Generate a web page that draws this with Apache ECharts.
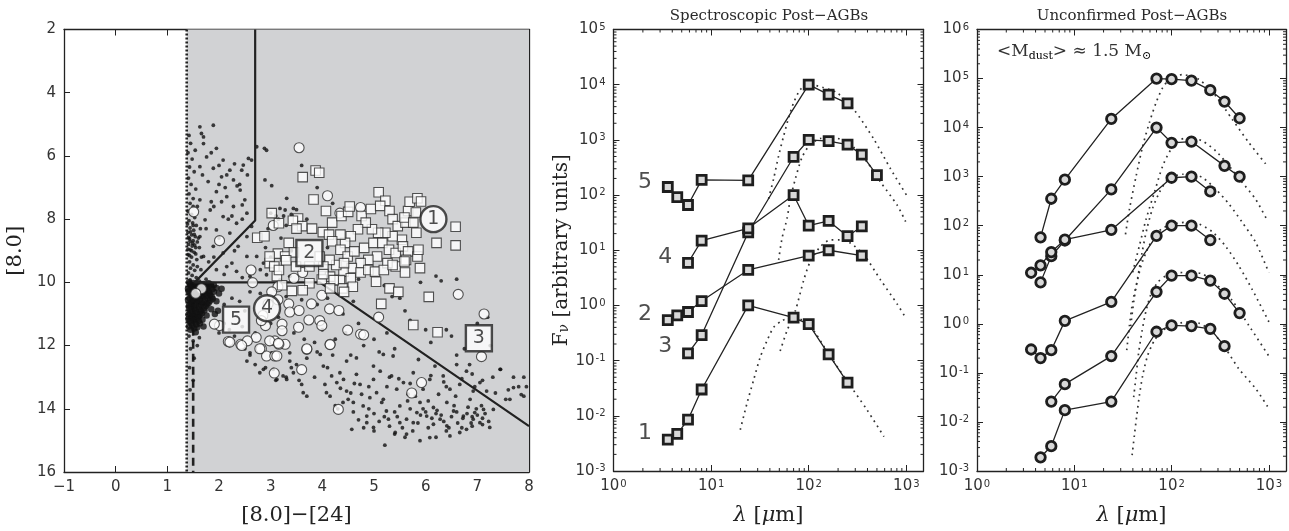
<!DOCTYPE html>
<html>
<head>
<meta charset="utf-8">
<script src="https://cdn.jsdelivr.net/npm/echarts@6/dist/echarts.min.js"></script>
<style>
  html, body { margin: 0; padding: 0; background: #ffffff; }
  #chart { width: 1289px; height: 531px; }
</style>
</head>
<body>
<div id="chart"></div>
<script>
// ---------- Left panel: [8.0] vs [8.0]-[24] ----------
const colorTicks = [-1, 0, 1, 2, 3, 4, 5, 6, 7, 8];
const magTicks = [2, 4, 6, 8, 10, 12, 14, 16];

// selection boundary polyline
const boundaryX = [2.7, 2.7, 1.53, 3.95, 8.0];
const boundaryY = [2, 8.04, 10.0, 10.0, 14.55];
const dottedCutX = 1.375;
const dashedCutX = 1.5;

// faint sources (small dots)
const bandDots = [
  [1.42,5.35],[1.45,5.6],[1.40,5.9],[1.48,6.1],[1.43,6.35],[1.52,6.5],[1.41,6.7],[1.46,6.9],[1.55,7.05],[1.42,7.2],
  [1.50,7.35],[1.44,7.5],[1.58,7.6],[1.40,7.75],[1.47,7.85],[1.53,7.95],[1.42,8.05],[1.49,8.12],[1.56,8.2],[1.44,8.28],
  [1.51,8.35],[1.40,8.42],[1.47,8.5],[1.54,8.55],[1.43,8.62],[1.50,8.68],[1.58,8.72],[1.41,8.8],[1.48,8.85],[1.55,8.9],
  [1.44,8.97],[1.52,9.05],[1.40,9.12],[1.47,9.2],[1.57,9.28],[1.43,9.35],[1.50,9.45],[1.45,9.55],[1.53,9.62],[1.41,9.7],
  [1.48,9.78],[1.56,9.85],[1.44,9.92],[1.39,8.15],[1.45,8.4],[1.52,8.48],[1.41,8.58],[1.49,8.76],[1.44,8.7],[1.53,8.82],
  [1.4,8.95],[1.47,9.0],[1.55,9.1],[1.43,9.15],[1.5,8.2],[1.6,8.6],[1.62,8.9],[1.58,9.5],[1.64,8.3],[1.66,9.2],
  [1.42,11.7],[1.5,11.85],[1.45,12.1],[1.52,12.4],[1.43,12.7],[1.5,13.1],[1.44,13.4],[1.62,11.75],[1.58,12.0]
];
const blobDots = [
  [1.42,10.0],[1.5,10.02],[1.6,10.0],[1.7,10.05],[1.8,10.03],[1.9,10.08],[1.45,10.1],[1.55,10.12],[1.65,10.1],[1.75,10.15],
  [1.85,10.12],[1.95,10.18],[1.4,10.2],[1.5,10.22],[1.6,10.25],[1.7,10.22],[1.8,10.28],[1.9,10.3],[1.43,10.32],[1.53,10.35],
  [1.63,10.38],[1.73,10.35],[1.83,10.4],[1.48,10.45],[1.58,10.48],[1.68,10.45],[1.78,10.5],[1.88,10.52],[1.4,10.55],[1.5,10.58],
  [1.6,10.6],[1.7,10.62],[1.8,10.65],[1.45,10.68],[1.55,10.7],[1.65,10.72],[1.75,10.75],[1.42,10.8],[1.52,10.82],[1.62,10.85],
  [1.72,10.88],[1.85,10.85],[1.47,10.92],[1.57,10.95],[1.67,10.98],[1.41,11.02],[1.51,11.05],[1.61,11.08],[1.76,11.05],[1.46,11.12],
  [1.56,11.15],[1.68,11.18],[1.43,11.22],[1.53,11.25],[1.63,11.3],[1.48,11.35],[1.58,11.42],[1.45,11.5],[1.55,11.58],[1.7,11.4],
  [1.95,10.6],[2.0,10.35],[1.98,10.9],[2.05,10.2],[1.92,11.0],
  [1.44,10.05],[1.54,10.07],[1.64,10.06],[1.74,10.09],[1.84,10.07],[1.47,10.16],[1.57,10.18],[1.67,10.17],[1.77,10.2],[1.87,10.22],
  [1.41,10.27],[1.51,10.29],[1.61,10.31],[1.71,10.3],[1.81,10.34],[1.46,10.4],[1.56,10.42],[1.66,10.43],[1.76,10.42],[1.86,10.46],
  [1.43,10.5],[1.53,10.52],[1.63,10.54],[1.73,10.56],[1.83,10.58],[1.47,10.62],[1.57,10.64],[1.67,10.66],[1.77,10.69],[1.42,10.73],
  [1.52,10.76],[1.62,10.78],[1.72,10.8],[1.45,10.87],[1.55,10.89],[1.65,10.91],[1.44,10.98],[1.54,11.0],[1.64,11.02],[1.49,11.08],
  [1.59,11.11],[1.41,11.16],[1.51,11.19],[1.61,11.22],[1.46,11.29],[1.56,11.33],[1.42,11.4],[1.52,11.46]
];
const wedgeDots = [
  [1.63,5.08],[1.89,5.03],[1.66,5.29],[1.70,5.61],[1.54,5.82],[1.95,5.76],[1.76,6.03],[2.08,6.13],[1.63,6.34],[1.89,6.39],
  [2.21,6.45],[2.44,6.45],[2.05,6.66],[1.79,6.81],[2.28,6.76],[2.47,6.29],[2.57,6.08],[2.63,6.13],[1.95,7.13],[2.15,7.29],
  [2.41,7.08],[2.50,7.39],[1.63,7.39],[1.50,7.60],[1.83,7.71],[2.28,7.60],[2.54,7.81],[2.08,7.92],[1.73,8.02],[2.34,8.13],
  [1.95,8.34],[2.21,8.44],[1.63,8.55],[2.54,8.55],[2.63,8.23],[1.89,8.86],[2.37,8.86],[2.08,9.07],[1.70,9.18],[2.25,9.39],
  [2.54,9.18],[2.73,9.18],[2.86,9.39],[2.99,9.49],[1.95,9.6],[2.34,9.65],[2.6,9.81],[2.92,9.76],[3.18,9.92],[3.37,9.81],
  [2.92,5.82],[2.89,6.76],[3.31,7.34],[3.28,7.71],[3.44,7.66],[3.18,7.66],[3.0,7.81],[2.73,5.71],[2.0,6.9],[2.12,7.0],
  [2.35,6.95],[1.85,7.45],[2.18,8.0],[2.45,7.55],[3.02,6.94],[2.88,5.76],[2.9,8.9],[3.0,9.2],[2.8,9.6],[3.2,8.6],
  [3.4,9.0],[2.95,8.3],[3.1,7.9],[2.3,9.0],[1.8,9.35],[2.1,9.75],
  [1.7,5.4],[1.85,5.9],[2.0,6.3],[2.15,6.6],[2.3,6.25],[2.4,6.9],[2.55,6.6],[1.68,6.6],[1.9,7.6],[2.05,7.45],
  [2.25,7.9],[2.45,8.0],[1.75,8.3],[2.0,8.6],[1.65,9.6],[1.9,9.2],[2.15,9.5],[2.45,9.85],[1.75,9.9]
];
const fieldDots = [
  [3.6,6.3],[3.9,7.0],[4.2,7.5],[3.5,7.7],[3.7,8.0],[4.1,8.9],[3.3,8.2],[3.15,8.0],[3.25,7.9],[3.4,7.85],
  [4.7,9.9],[5.2,10.1],[5.5,10.5],[5.9,10.0],[6.3,9.95],[5.7,11.2],[6.0,11.5],[6.4,11.5],[6.5,11.7],[6.6,12.3],
  [7.0,11.3],[7.2,11.1],[6.9,12.9],[7.1,13.1],[7.3,13.0],[7.45,12.75],[7.6,13.4],[7.7,13.0],[7.8,13.3],[7.9,13.6],
  [7.55,13.7],[7.35,13.5],[6.85,12.6],[6.75,12.1],[7.25,12.0],[5.35,10.45],[5.6,10.9],[6.1,11.9],[5.25,11.6],[5.0,11.8],
  [4.7,11.3],[4.4,11.0],[4.6,10.6],[4.8,12.0],[5.1,12.2],[5.4,12.1],[4.55,12.3],[4.45,11.6],[4.25,11.8],[4.0,11.5],
  [3.9,12.2],[3.7,12.4],[3.5,12.6],[3.3,13.0],[3.1,13.1],[2.9,12.7],[2.7,12.6],[2.6,12.3],[2.5,12.1],[2.3,11.7],
  [2.2,11.5],[2.1,11.3],[2.0,11.6],[2.4,10.6],[2.6,10.3],[2.8,10.35],[3.0,10.6],[3.3,10.45],[3.6,10.55],[3.9,10.7],
  [4.1,10.5],[3.45,11.6],[3.65,11.8],[3.85,11.9],[3.15,11.1],[2.7,11.6],[2.45,11.4],[2.1,10.7],[2.25,10.5],[2.5,10.9],
  [2.2,12.0],[2.8,12.2],[3.0,11.3],[7.9,13.0],[7.95,13.3],[7.85,13.55],[6.2,9.8],[6.6,9.9]
];
const cloudDots = [
  [2.54,12.49],[2.86,12.75],[3.37,12.49],[3.44,12.86],[3.60,13.23],[3.70,13.6],[3.96,12.28],[4.02,12.65],[4.05,13.23],[4.08,13.49],
  [4.18,12.96],[4.28,13.17],[4.34,12.86],[4.41,13.07],[4.47,12.49],[4.47,13.44],[4.50,13.7],[4.6,13.8],[4.66,12.39],[4.66,12.91],
  [4.73,13.23],[4.76,13.54],[4.79,13.91],[4.86,14.23],[4.99,12.65],[4.99,13.07],[5.05,13.49],[5.12,12.81],[5.18,12.28],[5.18,13.7],
  [5.24,14.07],[5.28,14.33],[5.34,12.96],[5.37,12.33],[5.44,13.38],[5.5,13.91],[5.57,13.17],[5.63,14.33],[5.66,13.54],[5.76,12.86],
  [5.83,14.12],[5.86,12.44],[5.89,13.8],[5.95,13.38],[6.02,14.23],[6.08,13.07],[6.15,13.96],[6.18,12.65],[6.25,13.54],[6.28,14.33],
  [6.34,12.96],[6.41,13.8],[6.47,13.38],[6.54,14.07],[6.6,12.6],[6.66,13.23],[6.73,14.23],[6.79,12.81],[6.86,13.7],[6.92,13.44],
  [6.95,14.12],[7.05,13.17],[7.12,14.02],[7.18,13.44],[7.24,14.59],[7.31,14.02],[7.44,12.75],[7.63,13.7],[7.7,13.33],[4.57,14.65],
  [4.99,14.59],[5.21,15.15],[5.41,14.75],[5.63,14.8],[5.89,15.01],[6.08,14.91],[6.47,14.86],[6.66,14.75],[6.79,14.65],[6.92,14.33],
  [7.05,14.44],[4.86,14.44],[5.5,14.44],[5.76,14.44],[6.15,14.49],[6.41,14.54],[2.6,12.23],[2.79,12.86],[3.05,12.75],[3.24,12.96],
  [3.31,13.07],[3.12,13.07],[3.63,13.49],[3.02,12.23],[3.37,12.23],[5.9,14.2],[6.0,14.1],[6.2,14.15],[6.3,14.2],[6.5,14.25],
  [6.6,14.1],[6.8,14.15],[6.9,14.25],[7.0,14.2],[7.1,14.3],[5.7,14.0],[5.4,14.1],[5.2,14.25],[5.0,14.15],[4.9,14.0],
  [4.3,14.0],[4.2,12.3],[5.0,14.7],[5.4,14.8],[5.6,14.9],[6.2,14.9],[6.4,14.7],[6.7,14.6],[6.9,14.55],[7.1,14.5],
  [4.9,13.3],[5.3,13.0],[5.7,13.2],[6.1,12.95],[6.4,13.3],[6.7,13.05],[4.15,13.6],[4.25,13.9],[4.4,13.8],[4.55,13.5],
  [4.6,14.1],[4.7,14.35],[4.8,14.6],[5.1,14.4],[5.15,13.8],[5.3,14.55],[5.45,14.25],[5.55,14.6],[5.65,13.75],[5.75,14.7],
  [5.85,14.45],[5.95,14.0],[6.05,14.6],[6.12,14.3],[6.22,14.05],[6.35,14.4],[6.45,14.6],[6.55,13.9],[6.62,14.45],[6.72,14.3],
  [6.82,13.95],[6.88,14.45],[6.98,14.0],[7.08,13.9],[7.15,14.15],[7.22,14.4],[4.35,13.35],[4.62,13.2],[4.92,13.65],[5.25,13.3],
  [5.48,13.05],[5.8,13.6],[6.05,13.75],[6.35,13.15],[6.58,13.6],[6.95,13.3],[4.1,12.7],[3.85,13.0],[3.55,13.1],[3.4,12.7]
];

// post-AGB candidates
const squareSources = [
  [3.62,6.67],[3.87,6.46],[3.94,6.53],[3.83,7.38],[4.07,7.74],[3.02,7.81],[3.16,8.13],[2.74,8.59],[2.88,8.54],[3.53,7.98],
  [3.61,8.22],[4.01,8.41],[4.13,8.49],[4.19,8.11],[4.37,7.90],[4.50,7.77],[4.53,7.60],[4.76,7.90],[4.94,7.68],[5.09,7.15],
  [5.22,7.42],[5.12,7.58],[5.30,7.74],[5.36,8.00],[5.46,8.22],[5.61,8.11],[5.66,7.74],[5.69,7.45],[5.84,7.34],[5.91,7.44],
  [5.81,7.79],[5.59,7.95],[5.76,8.11],[5.82,8.43],[5.54,8.65],[5.36,8.54],[5.22,8.43],[5.08,8.43],[4.96,8.32],[4.84,8.11],
  [4.69,8.32],[4.55,8.54],[4.44,8.75],[4.35,8.49],[4.19,8.70],[4.35,8.97],[4.49,9.18],[4.62,9.02],[4.81,8.91],[4.99,8.75],
  [5.16,8.75],[5.29,8.97],[5.42,9.07],[5.56,8.86],[5.66,9.02],[5.84,9.18],[5.86,8.97],[5.62,9.29],[5.42,9.50],[5.26,9.39],
  [5.06,9.18],[4.89,9.29],[4.74,9.39],[4.57,9.55],[4.41,9.66],[4.27,9.45],[4.14,9.29],[4.02,9.50],[3.95,9.18],[4.15,9.82],
  [4.34,9.93],[4.55,9.87],[4.74,9.69],[4.89,9.61],[5.02,9.66],[5.19,9.61],[5.36,9.45],[5.59,9.34],[5.04,9.98],[4.59,10.14],
  [4.39,10.19],[4.22,9.93],[3.99,9.91],[3.75,10.03],[3.62,10.25],[3.41,10.27],[3.22,10.09],[3.12,9.80],[2.98,9.39],[3.14,9.09],
  [3.28,9.18],[2.98,9.18],[3.07,9.50],[3.16,9.61],[3.49,9.50],[3.75,9.50],[4.02,9.74],[5.30,10.19],[5.47,10.30],[5.60,9.69],
  [6.06,10.46],[5.14,10.68],[5.76,11.35],[6.23,11.58],[6.21,8.75],[6.58,8.24],[6.58,8.83],[5.89,9.55],[4.42,9.39],[4.15,10.19],
  [4.42,10.30],[3.43,8.05],[3.50,8.30],[3.80,8.30],[3.35,8.75],[3.45,9.05],[3.30,9.30]
];
const circleSources = [
  [3.55,5.74],[4.10,7.26],[4.74,7.63],[4.34,7.81],[3.05,8.20],[2.01,8.68],[1.51,7.77],[2.62,9.61],[3.45,9.87],[3.62,9.69],
  [3.14,10.14],[2.65,10.01],[3.02,10.30],[3.14,10.55],[3.35,10.68],[3.37,10.94],[3.55,10.89],[3.79,10.68],[3.99,10.41],[2.95,10.68],
  [2.85,11.05],[2.90,11.37],[3.22,11.32],[3.22,11.53],[3.08,11.85],[3.28,11.96],[3.54,11.42],[3.74,11.19],[3.95,11.21],[3.99,11.37],
  [4.14,10.84],[4.32,10.89],[4.15,11.96],[4.49,11.51],[4.74,11.64],[4.80,11.66],[5.09,11.10],[3.70,12.12],[2.98,11.85],[3.16,11.96],
  [2.82,12.10],[2.92,12.33],[3.08,12.33],[2.42,11.96],[2.18,11.87],[2.01,11.37],[1.91,11.32],[3.60,12.76],[3.07,12.87],[4.31,14.02],
  [5.73,13.5],[5.92,13.17],[6.63,10.38],[7.13,11.00],[7.08,12.35],[1.66,10.2],[1.55,10.35],[2.82,11.21],[2.72,11.74],[2.55,11.85],
  [2.21,11.89],[2.44,12.0],[2.79,12.1],[3.15,11.93],[3.12,12.33],[3.7,12.1],[4.15,11.97]
];

// numbered examples (x, y, label, shape)
const exampleX = [6.15, 3.75, 7.03, 2.93, 2.33];
const exampleY = [8.0, 9.07, 11.77, 10.82, 11.18];
const exampleLabel = ['1', '2', '3', '4', '5'];
const exampleShape = ['circle', 'rect', 'rect', 'circle', 'rect'];

// ---------- Middle/right panels: SEDs ----------
const wavelengths = [3.6, 4.5, 5.8, 8.0, 24, 70, 100, 160, 250, 350, 500];

const spec1 = [0.0037, 0.0047, 0.0085, 0.030, 1.0, 0.60, 0.46, 0.13, 0.040, null, null];
const spec2 = [0.54, 0.66, 0.76, 1.2, 4.4, null, 8.0, 10, null, 8.0, null];
const spec3 = [null, null, 0.135, 0.29, 21, 490, 1000, 950, 820, 540, 230];
const spec4 = [null, null, 5.9, 15, 25, 100, 28, 34, 18, 27, null];
const spec5 = [140, 92, 66, 188, 185, null, 10000, 6600, 4600, null, null];

const specModel1 = [[19.9,0.0056],[23.3,0.0168],[27.2,0.044],[31.9,0.116],[37.4,0.23],[43.7,0.40],[53.3,0.53],[64.9,0.60],[82,0.56],[102,0.45],[161,0.13],[251,0.041],[396,0.0128],[590,0.0042]];
const specModel2 = [[51,0.15],[60,0.35],[73,0.80],[89,2.9],[104,6.3],[132,11.7],[167,15.4],[211,15.4],[268,13.4],[367,8.3],[545,2.9],[809,1.05],[984,0.60]];
const specModel3 = [[49.2,6.7],[53.3,16.5],[60,37.7],[64.9,86],[73,197],[85.5,483],[104,838],[132,1060],[167,1100],[211,1030],[290,731],[398,393],[545,172],[809,65],[984,33]];
const specModel5 = [[38.8,86],[43.7,197],[49.2,516],[55.4,1180],[62.3,2520],[70,4690],[82,8130],[100,10200],[140,8900],[196,7100],[290,3560],[465,1030],[690,298],[1007,99]];

const specLabelX = [2.1, 2.1, 3.38, 3.38, 2.1];
const specLabelY = [0.0048, 0.70, 0.18, 7.5, 174];
const specLabelText = ['1', '2', '3', '4', '5'];

const unc1 = [null, 58, 355, 870, 15000, 100000, 97000, 91000, 58000, 34000, 15500];
const unc2 = [null, 7, 24, 50, 550, 10000, 4900, 5200, null, 1660, 1000];
const unc3 = [11, 15.5, 29, 52, 82, null, 950, 1000, 500, null, null];
const unc4 = [0.30, 0.20, 0.29, 1.15, 2.8, 62, 100, 100, 51, null, null];
const unc5 = [null, null, 0.026, 0.059, 0.22, 4.5, 9.6, 9.6, 7.6, 4.1, 1.66];
const unc6 = [null, 0.0019, 0.0032, 0.0174, 0.026, 0.69, 0.93, 0.90, 0.79, 0.35, null];

const uncModel1 = [[33.6,67],[36.9,217],[43.2,1030],[50.5,4200],[59.1,12600],[69.2,32100],[80.9,64700],[98.6,103000],[130,120000],[192,95500],[285,43700],[421,14700],[624,4930],[977,1600]];
const uncModel2 = [[39.8,11.2],[46.7,39],[54.7,136],[66.5,475],[81,1650],[98.6,3600],[125,5750],[158,6120],[208,5320],[285,3330],[390,1650],[533,760],[731,347],[977,122]];
const uncModel3 = [[38,0.9],[41,3.0],[45,9],[50,30],[56,90],[64,230],[75,480],[88,800],[102,1000],[130,1120],[164,1120],[208,955],[285,555],[390,275],[533,117],[731,46],[1000,11]];
const uncModel4 = [[34.6,0.29],[36.9,0.92],[39.8,2.8],[44.9,8.2],[48.6,15.3],[54.7,28.6],[64,53],[78,85],[102,108],[140,117],[192,108],[263,75],[360,38],[493,15],[675,5],[1000,1.1]];
const uncModel5 = [[40.8,0.032],[43.2,0.089],[46,0.27],[49.8,0.73],[54.7,1.86],[61.5,4.07],[71.9,7.0],[87.6,9.6],[111,10.9],[152,11.2],[208,10.4],[285,6.5],[421,2.98],[624,0.92],[1000,0.22]];
const uncModel6 = [[39.3,0.0021],[41.5,0.0054],[43.9,0.0137],[46.7,0.035],[50.5,0.089],[56.8,0.227],[66.5,0.458],[81,0.73],[102,0.95],[140,1.08],[192,1.03],[263,0.68],[360,0.31],[493,0.12],[731,0.048],[1000,0.0187]];

// ---------- styling helpers ----------
const SANS = "'DejaVu Sans', sans-serif";
const SERIF = "'DejaVu Serif', serif";
const INK = '#222';
const LABEL = '#333';

function minusFmt(v) { return v < 0 ? '\u2212' + (-v) : String(v); }
function powFmt(v) {
  const e = Math.log10(v);
  const r = Math.round(e);
  if (Math.abs(e - r) > 1e-6) return '';
  return '{b|10}{s|' + (r < 0 ? '-' + (-r) : r) + '}';
}
const powRich = {
  b: { fontSize: 15, fontFamily: SANS, color: LABEL },
  s: { fontSize: 10, fontFamily: SANS, color: LABEL, verticalAlign: 'top', padding: [0, 0, 0, 1] }
};

function frameAxis(extra, showLabel) {
  return Object.assign({
    axisLine: { show: true, onZero: false, lineStyle: { color: INK, width: 1.3 } },
    axisTick: { show: true, inside: true, length: 6, lineStyle: { color: INK, width: 1 } },
    splitLine: { show: false },
    axisLabel: showLabel ? { color: LABEL, fontSize: 15, fontFamily: SANS, margin: 8 } : { show: false }
  }, extra);
}

function pairs(vals) {
  return wavelengths.map((w, i) => [w, vals[i]]).filter(p => p[1] != null);
}

function sedSeries(vals, xi, yi, symbol) {
  return {
    type: 'line', xAxisIndex: xi, yAxisIndex: yi, data: pairs(vals), z: 4,
    symbol: symbol, symbolSize: symbol === 'rect' ? 9 : 9.5, showSymbol: true,
    lineStyle: { color: INK, width: 1.3 },
    itemStyle: { color: '#d8d8d8', borderColor: '#1e1e1e', borderWidth: 2.8 },
    emphasis: { disabled: true }
  };
}
function modelSeries(pts, xi, yi) {
  return {
    type: 'line', xAxisIndex: xi, yAxisIndex: yi, data: pts, z: 3, smooth: 0.25,
    showSymbol: false, symbol: 'none',
    lineStyle: { color: '#333', width: 1.7, type: [1.7, 4.3] },
    emphasis: { disabled: true }
  };
}

// minor log ticks on all four sides of a log-log frame
function minorTicks(xi, yi, xmin, xmax, ymin, ymax) {
  return {
    type: 'custom', xAxisIndex: xi, yAxisIndex: yi, clip: false, silent: true, z: 6,
    data: [[Math.sqrt(xmin * xmax), Math.sqrt(ymin * ymax)]],
    renderItem: function (params, api) {
      const kids = [];
      const L = 3;
      const seg = (x1, y1, x2, y2) => ({ type: 'line', shape: { x1, y1, x2, y2 }, style: { stroke: INK, lineWidth: 1 } });
      for (let e = Math.floor(Math.log10(xmin)); e <= Math.ceil(Math.log10(xmax)); e++) {
        for (let m = 2; m <= 9; m++) {
          const v = m * Math.pow(10, e);
          if (v <= xmin || v >= xmax) continue;
          const b = api.coord([v, ymin]);
          const t = api.coord([v, ymax]);
          kids.push(seg(b[0], b[1], b[0], b[1] - L));
          kids.push(seg(t[0], t[1], t[0], t[1] + L));
        }
      }
      for (let e = Math.floor(Math.log10(ymin)); e <= Math.ceil(Math.log10(ymax)); e++) {
        for (let m = 2; m <= 9; m++) {
          const v = m * Math.pow(10, e);
          if (v <= ymin || v >= ymax) continue;
          const l = api.coord([xmin, v]);
          const r = api.coord([xmax, v]);
          kids.push(seg(l[0], l[1], l[0] + L, l[1]));
          kids.push(seg(r[0], r[1], r[0] - L, r[1]));
        }
      }
      return { type: 'group', children: kids };
    }
  };
}

const dotStyle = { color: '#121212' };
const looseDots = bandDots.concat(wedgeDots, fieldDots, cloudDots);

const option = {
  animation: false,
  backgroundColor: '#ffffff',
  grid: [
    { left: 64, top: 29.5, width: 465, height: 444 },
    { left: 613.5, top: 29.5, width: 310, height: 444 },
    { left: 977, top: 29.5, width: 310, height: 444 }
  ],
  xAxis: [
    frameAxis({ type: 'value', gridIndex: 0, min: colorTicks[0], max: colorTicks[colorTicks.length - 1], interval: 1, position: 'bottom',
      name: '[8.0]\u2212[24]', nameLocation: 'middle', nameGap: 33,
      nameTextStyle: { fontFamily: SERIF, fontSize: 21, color: INK } }, true),
    frameAxis({ type: 'value', gridIndex: 0, min: colorTicks[0], max: colorTicks[colorTicks.length - 1], interval: 1, position: 'top' }, false),
    frameAxis({ type: 'log', logBase: 10, gridIndex: 1, min: 1, max: 1500, position: 'bottom',
      name: '{i|\u03bb} [{i|\u03bc}m]', nameLocation: 'middle', nameGap: 34,
      nameTextStyle: { fontFamily: SERIF, fontSize: 21, color: INK, rich: { i: { fontFamily: SERIF, fontStyle: 'italic', fontSize: 21, color: INK } } } }, true),
    frameAxis({ type: 'log', logBase: 10, gridIndex: 1, min: 1, max: 1500, position: 'top' }, false),
    frameAxis({ type: 'log', logBase: 10, gridIndex: 2, min: 1, max: 1500, position: 'bottom',
      name: '{i|\u03bb} [{i|\u03bc}m]', nameLocation: 'middle', nameGap: 34,
      nameTextStyle: { fontFamily: SERIF, fontSize: 21, color: INK, rich: { i: { fontFamily: SERIF, fontStyle: 'italic', fontSize: 21, color: INK } } } }, true),
    frameAxis({ type: 'log', logBase: 10, gridIndex: 2, min: 1, max: 1500, position: 'top' }, false)
  ],
  yAxis: [
    frameAxis({ type: 'value', gridIndex: 0, inverse: true, min: magTicks[0], max: magTicks[magTicks.length - 1], interval: 2, position: 'left',
      name: '[8.0]', nameLocation: 'middle', nameGap: 38, nameRotate: 90,
      nameTextStyle: { fontFamily: SERIF, fontSize: 21, color: INK } }, true),
    frameAxis({ type: 'value', gridIndex: 0, inverse: true, min: magTicks[0], max: magTicks[magTicks.length - 1], interval: 2, position: 'right' }, false),
    frameAxis({ type: 'log', logBase: 10, gridIndex: 1, min: 1e-3, max: 1e5, splitNumber: 8, position: 'left',
      name: '{t|F}{s|\u03bd}{t| [arbitrary units]}', nameLocation: 'middle', nameGap: 40, nameRotate: 90,
      nameTextStyle: { rich: { t: { fontFamily: SERIF, fontSize: 20, color: INK }, s: { fontFamily: SERIF, fontSize: 14, color: INK, verticalAlign: 'bottom' } } } }, true),
    frameAxis({ type: 'log', logBase: 10, gridIndex: 1, min: 1e-3, max: 1e5, splitNumber: 8, position: 'right' }, false),
    frameAxis({ type: 'log', logBase: 10, gridIndex: 2, min: 1e-3, max: 1e6, splitNumber: 9, position: 'left' }, true),
    frameAxis({ type: 'log', logBase: 10, gridIndex: 2, min: 1e-3, max: 1e6, splitNumber: 9, position: 'right' }, false)
  ],
  graphic: [
    { type: 'text', x: 769, y: 16, style: { text: 'Spectroscopic Post\u2212AGBs', fontFamily: SERIF, fontSize: 15, fill: '#2a2a2a', align: 'center', verticalAlign: 'middle' } },
    { type: 'text', x: 1132, y: 16, style: { text: 'Unconfirmed Post\u2212AGBs', fontFamily: SERIF, fontSize: 15, fill: '#2a2a2a', align: 'center', verticalAlign: 'middle' } },
    { type: 'text', x: 997, y: 52, style: {
        text: '{t|<M}{s|dust}{t|> \u2248 1.5 M}{s|\u2299}',
        verticalAlign: 'middle', align: 'left',
        rich: { t: { fontFamily: SERIF, fontSize: 17, fill: LABEL, color: LABEL }, s: { fontFamily: SERIF, fontSize: 11, color: LABEL, verticalAlign: 'bottom', padding: [8, 0, 0, 0] } }
    } }
  ],
  series: [
    // grey selection region + cut lines
    { type: 'line', xAxisIndex: 0, yAxisIndex: 0, z: 1, data: [[dottedCutX, 2], [dottedCutX, 16]], symbol: 'none',
      lineStyle: { color: INK, width: 2.6, type: [2, 2] },
      markArea: { silent: true, itemStyle: { color: '#d1d2d4' }, data: [[{ coord: [dottedCutX, 2] }, { coord: [8, 16] }]] } },
    { type: 'line', xAxisIndex: 0, yAxisIndex: 0, z: 2, data: [[dashedCutX, 10.2], [dashedCutX, 16]], symbol: 'none',
      lineStyle: { color: INK, width: 2.6, type: [8, 5] } },
    { type: 'scatter', xAxisIndex: 0, yAxisIndex: 0, z: 2, data: looseDots, symbol: 'circle', symbolSize: 3.8, itemStyle: dotStyle, emphasis: { disabled: true } },
    { type: 'scatter', xAxisIndex: 0, yAxisIndex: 0, z: 2, data: blobDots, symbol: 'circle', symbolSize: 6.5, itemStyle: dotStyle, emphasis: { disabled: true } },
    { type: 'line', xAxisIndex: 0, yAxisIndex: 0, z: 3, data: boundaryX.map((x, i) => [x, boundaryY[i]]), symbol: 'none',
      lineStyle: { color: INK, width: 2.2 } },
    { type: 'scatter', xAxisIndex: 0, yAxisIndex: 0, z: 4, data: circleSources, symbol: 'circle', symbolSize: 10,
      itemStyle: { color: '#ffffff', borderColor: '#2a2a2a', borderWidth: 1.1 }, emphasis: { disabled: true } },
    { type: 'scatter', xAxisIndex: 0, yAxisIndex: 0, z: 4, data: squareSources, symbol: 'rect', symbolSize: 9.5,
      itemStyle: { color: '#ffffff', borderColor: '#2a2a2a', borderWidth: 1.1 }, emphasis: { disabled: true } },
    { type: 'scatter', xAxisIndex: 0, yAxisIndex: 0, z: 5,
      data: exampleX.map((x, i) => ({ value: [x, exampleY[i]], symbol: exampleShape[i], name: exampleLabel[i] })),
      symbolSize: 26, itemStyle: { color: '#ffffff', borderColor: INK, borderWidth: 2.4 },
      label: { show: true, position: 'inside', formatter: '{b}', fontFamily: SANS, fontSize: 19, color: INK },
      emphasis: { disabled: true } },

    // spectroscopic post-AGBs
    modelSeries(specModel1, 2, 2), modelSeries(specModel2, 2, 2), modelSeries(specModel3, 2, 2), modelSeries(specModel5, 2, 2),
    sedSeries(spec1, 2, 2, 'rect'), sedSeries(spec2, 2, 2, 'rect'), sedSeries(spec3, 2, 2, 'rect'),
    sedSeries(spec4, 2, 2, 'rect'), sedSeries(spec5, 2, 2, 'rect'),
    { type: 'scatter', xAxisIndex: 2, yAxisIndex: 2, z: 5, symbolSize: 0,
      data: specLabelX.map((x, i) => ({ value: [x, specLabelY[i]], name: specLabelText[i] })),
      label: { show: true, position: 'inside', formatter: '{b}', fontFamily: SANS, fontSize: 22, color: INK },
      emphasis: { disabled: true } },
    minorTicks(2, 2, 1, 1500, 1e-3, 1e5),

    // unconfirmed post-AGBs
    modelSeries(uncModel1, 4, 4), modelSeries(uncModel2, 4, 4), modelSeries(uncModel3, 4, 4),
    modelSeries(uncModel4, 4, 4), modelSeries(uncModel5, 4, 4), modelSeries(uncModel6, 4, 4),
    sedSeries(unc1, 4, 4, 'circle'), sedSeries(unc2, 4, 4, 'circle'), sedSeries(unc3, 4, 4, 'circle'),
    sedSeries(unc4, 4, 4, 'circle'), sedSeries(unc5, 4, 4, 'circle'), sedSeries(unc6, 4, 4, 'circle'),
    minorTicks(4, 4, 1, 1500, 1e-3, 1e6)
  ]
};

// log-axis tick labels as powers of ten
[2, 4].forEach(i => { option.xAxis[i].axisLabel.formatter = powFmt; option.xAxis[i].axisLabel.rich = powRich; });
[2, 4].forEach(i => { option.yAxis[i].axisLabel.formatter = powFmt; option.yAxis[i].axisLabel.rich = powRich; });
option.xAxis[0].axisLabel.formatter = minusFmt;

const chart = echarts.init(document.getElementById('chart'), null, { renderer: 'canvas' });
chart.setOption(option);
</script>
</body>
</html>
